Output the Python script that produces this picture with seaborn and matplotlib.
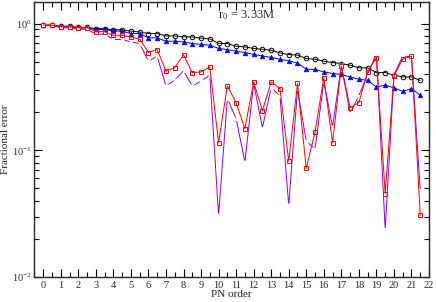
import numpy as np
import pandas as pd
import seaborn as sns
import matplotlib
matplotlib.use('Agg')
import matplotlib.pyplot as plt
from matplotlib.ticker import LogLocator, MultipleLocator, NullFormatter

# PN orders (half-integer steps)
pn_order = np.arange(0, 22, 0.5)

# Fractional error
err_black = [0.97, 0.97, 0.955, 0.955, 0.935, 0.935, 0.915, 0.915, 0.895, 0.895,
             0.873, 0.86, 0.836, 0.836, 0.80, 0.80, 0.787, 0.787, 0.768, 0.758,
             0.70, 0.697, 0.664, 0.656, 0.637, 0.628, 0.617, 0.588, 0.570, 0.565,
             0.531, 0.524, 0.506, 0.493, 0.484, 0.47, 0.448, 0.448, 0.411, 0.411,
             0.392, 0.38, 0.38, 0.357]
err_blue = [0.97, 0.97, 0.945, 0.945, 0.925, 0.925, 0.90, 0.90, 0.873, 0.873,
            0.836, 0.836, 0.772, 0.772, 0.727, 0.727, 0.718, 0.697, 0.685, 0.676,
            0.637, 0.625, 0.606, 0.592, 0.571, 0.556, 0.541, 0.524, 0.508, 0.49,
            0.437, 0.435, 0.416, 0.404, 0.397, 0.38, 0.364, 0.357, 0.316, 0.327,
            0.311, 0.292, 0.307, 0.272]
err_red = [0.975, 0.975, 0.945, 0.945, 0.93, 0.93, 0.865, 0.865, 0.81, 0.81,
           0.785, 0.754, 0.592, 0.625, 0.421, 0.45, 0.567, 0.41, 0.416, 0.455,
           0.115, 0.322, 0.238, 0.148, 0.347, 0.205, 0.347, 0.307, 0.082, 0.337,
           0.072, 0.14, 0.373, 0.115, 0.462, 0.217, 0.238, 0.416, 0.54, 0.0455,
           0.386, 0.525, 0.555, 0.0306]
err_purple = [0.97, 0.97, 0.927, 0.927, 0.905, 0.905, 0.826, 0.826, 0.75, 0.75,
              0.718, 0.697, 0.505, 0.553, 0.322, 0.358, 0.424, 0.322, 0.351, 0.392,
              0.0306, 0.256, 0.178, 0.081, 0.337, 0.151, 0.313, 0.269, 0.0367, 0.303,
              0.118, 0.103, 0.35, 0.153, 0.47, 0.196, 0.27, 0.40, 0.581, 0.0237,
              0.392, 0.556, 0.547, 0.0483]

sns.set_style("ticks")
plt.rcParams['font.family'] = ['Liberation Serif', 'DejaVu Serif']
plt.rcParams['mathtext.fontset'] = 'stix'

fig = plt.figure(figsize=(4.36, 3.02), dpi=100)
ax = fig.add_axes([0.079, 0.083, 0.905, 0.91])

# draw order: black, blue, purple, red on top
sns.lineplot(x=pn_order, y=err_black, ax=ax, color='black', lw=0.7,
             marker='o', markersize=3.3, markerfacecolor='none',
             markeredgecolor='black', markeredgewidth=0.7)
sns.lineplot(x=pn_order, y=err_blue, ax=ax, color='#0000ff', lw=0.7,
             marker='^', markersize=3.3, markerfacecolor='#0000ff',
             markeredgecolor='#0000ff', markeredgewidth=0.5)
sns.lineplot(x=pn_order, y=err_purple, ax=ax, color='#9400d3', lw=0.7,
             marker='x', markersize=2.8, markeredgewidth=1.0)
sns.lineplot(x=pn_order, y=err_red, ax=ax, color='#ff0000', lw=0.7,
             marker='s', markersize=3.0, markerfacecolor='none',
             markeredgecolor='#ff0000', markeredgewidth=0.7)

ax.set_yscale('log')
ax.set_xlim(-0.5, 22)
ax.set_ylim(0.01, 1.48)

ax.xaxis.set_major_locator(MultipleLocator(1))
ax.xaxis.set_minor_locator(MultipleLocator(0.5))
ax.yaxis.set_major_locator(LogLocator(base=10, numticks=5))
ax.yaxis.set_minor_locator(LogLocator(base=10, subs=np.arange(2, 10), numticks=12))
ax.yaxis.set_minor_formatter(NullFormatter())

ax.tick_params(which='both', direction='in', top=True, right=True,
               labelsize=7.5, width=0.8, color='black')
ax.tick_params(which='major', length=6)
ax.tick_params(which='minor', length=3.5)
ax.tick_params(axis='x', pad=3)
ax.tick_params(axis='y', pad=2)

for s in ax.spines.values():
    s.set_linewidth(1.0)

ax.set_xlabel('PN order', fontsize=8, labelpad=0)
ax.set_ylabel('Fractional error', fontsize=8)
ax.yaxis.set_label_coords(-0.062, 0.5)

ax.text(11.6, 1.17, r'r$_0$ = 3.33M', fontsize=9, ha='center', va='center')

fig.savefig('out.png', dpi=100)
